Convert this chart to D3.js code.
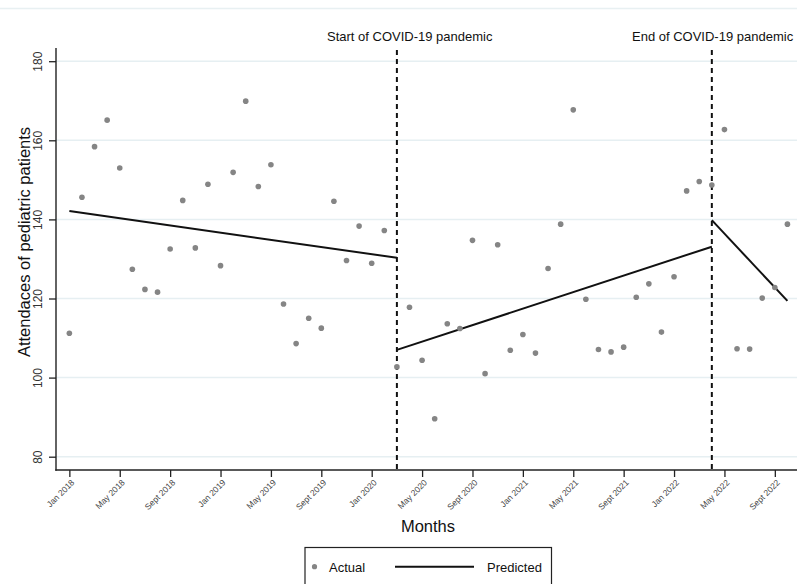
<!DOCTYPE html>
<html>
<head>
<meta charset="utf-8">
<script src="https://cdn.jsdelivr.net/npm/d3@7"></script>
<style>
  html, body { margin: 0; padding: 0; background: #fff; }
  svg { display: block; font-family: "Liberation Sans", Arial, Helvetica, sans-serif; }
</style>
</head>
<body>
<svg id="chart" width="797" height="584"></svg>
<script>
// ---- data (month index: 0 = Jan 2018) ----
const actualValues = [
  111.2, 145.6, 158.4, 165.1, 153.0, 127.4, 122.3, 121.6, 132.5, 144.8,
  132.8, 148.9, 128.3, 151.9, 169.9, 148.3, 153.8, 118.6, 108.6, 115.0,
  112.5, 144.6, 129.6, 138.3, 128.9, 137.2, 102.7, 117.8, 104.4, 89.6,
  113.6, 112.4, 134.7, 101.0, 133.6, 106.9, 110.9, 106.2, 127.6, 138.8,
  167.7, 119.8, 107.1, 106.5, 107.7, 120.3, 123.7, 111.5, 125.5, 147.2,
  149.6, 148.7, 162.7, 107.3, 107.2, 120.1, 122.8, 138.8
];
const months = actualValues.map((_, i) => i);

const predictedStartMonth = [0, 26, 51];
const predictedEndMonth   = [26, 51, 57];
const predictedStartValue = [142.1, 107.0, 139.8];
const predictedEndValue   = [130.3, 133.1, 119.4];

const interruptionMonths = [26, 51];
const interruptionLabels = ["Start of COVID-19 pandemic", "End of COVID-19 pandemic"];

const xTickMonths = [0, 4, 8, 12, 16, 20, 24, 28, 32, 36, 40, 44, 48, 52, 56];
const xTickLabels = ["Jan 2018", "May 2018", "Sept 2018", "Jan 2019", "May 2019", "Sept 2019",
  "Jan 2020", "May 2020", "Sept 2020", "Jan 2021", "May 2021", "Sept 2021",
  "Jan 2022", "May 2022", "Sept 2022"];
const yTicks = [80, 100, 120, 140, 160, 180];

// ---- layout ----
const svg = d3.select("#chart");
const plotLeft = 56, plotRight = 797, plotTop = 48, plotBottom = 470;

const x = d3.scaleLinear().domain([-1.06, 57.76]).range([plotLeft, plotRight]);
const y = d3.scaleLinear().domain([80, 180]).range([456.7, 61.2]);

// faint top border line
svg.append("line").attr("x1", 0).attr("x2", 797).attr("y1", 8.5).attr("y2", 8.5)
  .attr("stroke", "#e8f0f2").attr("stroke-width", 1.5);

// gridlines
svg.append("g").selectAll("line").data(yTicks).join("line")
  .attr("x1", plotLeft).attr("x2", plotRight)
  .attr("y1", d => y(d)).attr("y2", d => y(d))
  .attr("stroke", "#e6eff2").attr("stroke-width", 1.5);

// y axis
const yAxis = d3.axisLeft(y).tickValues(yTicks).tickSize(7).tickSizeOuter(0);
const gy = svg.append("g").attr("transform", `translate(${plotLeft},0)`).call(yAxis);
gy.select(".domain").remove();
gy.selectAll(".tick line").attr("stroke", "#222").attr("stroke-width", 1.3);
gy.selectAll(".tick text")
  .attr("transform", "rotate(-90)")
  .attr("x", 0).attr("y", -14).attr("dy", 0)
  .attr("text-anchor", "middle")
  .style("font-size", "12px").attr("fill", "#333");
svg.append("line").attr("x1", plotLeft).attr("x2", plotLeft)
  .attr("y1", plotTop).attr("y2", plotBottom + 0.7)
  .attr("stroke", "#222").attr("stroke-width", 1.4);

// x axis
const xAxis = d3.axisBottom(x).tickValues(xTickMonths)
  .tickFormat((d, i) => xTickLabels[i]).tickSize(7).tickSizeOuter(0);
const gx = svg.append("g").attr("transform", `translate(0,${plotBottom})`).call(xAxis);
gx.select(".domain").remove();
gx.selectAll(".tick line").attr("stroke", "#222").attr("stroke-width", 1.3);
gx.selectAll(".tick text")
  .attr("text-anchor", "end")
  .attr("transform", "translate(3,11) rotate(-45)")
  .attr("x", 0).attr("y", 0).attr("dy", "0.35em")
  .style("font-size", "8.5px").attr("fill", "#444");
svg.append("line").attr("x1", plotLeft - 0.7).attr("x2", plotRight)
  .attr("y1", plotBottom).attr("y2", plotBottom)
  .attr("stroke", "#222").attr("stroke-width", 1.4);

// interruption dashed lines
svg.append("g").selectAll("line").data(interruptionMonths).join("line")
  .attr("x1", d => x(d)).attr("x2", d => x(d))
  .attr("y1", 50).attr("y2", plotBottom)
  .attr("stroke", "#111").attr("stroke-width", 2)
  .attr("stroke-dasharray", "5,4");

// interruption labels
const labelX = [327, 632];
svg.append("g").selectAll("text").data(interruptionLabels).join("text")
  .attr("x", (d, i) => labelX[i]).attr("y", 41)
  .style("font-size", "13px").attr("fill", "#111")
  .text(d => d);

// predicted segments
const segs = predictedStartMonth.map((m, i) => ({
  x1: m, x2: predictedEndMonth[i], y1: predictedStartValue[i], y2: predictedEndValue[i]
}));
svg.append("g").selectAll("line").data(segs).join("line")
  .attr("x1", d => x(d.x1)).attr("x2", d => x(d.x2))
  .attr("y1", d => y(d.y1)).attr("y2", d => y(d.y2))
  .attr("stroke", "#111").attr("stroke-width", 2);

// actual points
svg.append("g").selectAll("circle").data(months).join("circle")
  .attr("cx", d => x(d)).attr("cy", d => y(actualValues[d]))
  .attr("r", 2.8).attr("fill", "#858585");

// axis titles
svg.append("text")
  .attr("transform", "translate(30,242) rotate(-90)")
  .attr("text-anchor", "middle")
  .style("font-size", "16.5px").attr("fill", "#111")
  .text("Attendaces of pediatric patients");
svg.append("text")
  .attr("x", 428).attr("y", 532)
  .attr("text-anchor", "middle")
  .style("font-size", "16.5px").attr("fill", "#111")
  .text("Months");

// legend
const lg = svg.append("g");
lg.append("rect").attr("x", 305).attr("y", 547.5).attr("width", 246.5).attr("height", 40)
  .attr("fill", "none").attr("stroke", "#222").attr("stroke-width", 1.2);
lg.append("circle").attr("cx", 314.5).attr("cy", 566.7).attr("r", 2.6).attr("fill", "#858585");
lg.append("text").attr("x", 329).attr("y", 571.5).style("font-size", "13px").attr("fill", "#111").text("Actual");
lg.append("line").attr("x1", 395).attr("x2", 474).attr("y1", 566.7).attr("y2", 566.7)
  .attr("stroke", "#111").attr("stroke-width", 2);
lg.append("text").attr("x", 487).attr("y", 571.5).style("font-size", "13px").attr("fill", "#111").text("Predicted");
</script>
</body>
</html>
